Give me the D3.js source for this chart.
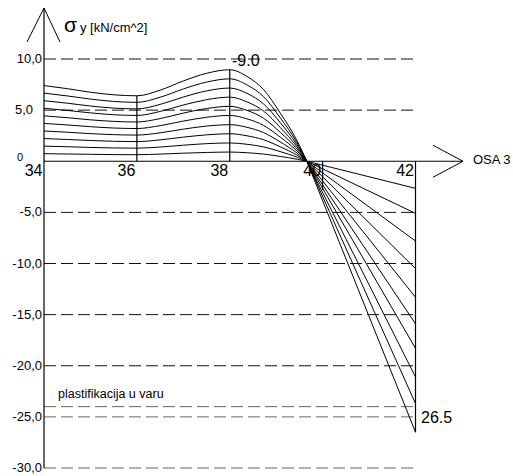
<!DOCTYPE html>
<html>
<head>
<meta charset="utf-8">
<script src="https://cdn.jsdelivr.net/npm/d3@7"></script>
<style>
  html, body { margin: 0; padding: 0; background: #fff; }
  svg { display: block; font-family: "Liberation Sans", Arial, sans-serif; }
</style>
</head>
<body>
<svg id="chart" width="513" height="476"></svg>
<script>
// ---- data ----
const xTicks = [34, 36, 38, 40, 42];
const yTicks = [10, 5, 0, -5, -10, -15, -20, -25, -30];
const yTickLabels = ["10,0", "5,0", "0", "-5,0", "-10,0", "-15,0", "-20,0", "-25,0", "-30,0"];
const gridValues = [10, 5, -5, -10, -15, -20, -24, -25, -30];
const plastLimit = -24;

// stations along OSA 3 (left, curved part)
const curveX = [34, 34.5, 35, 35.5, 36, 36.5, 37, 37.5, 38, 38.37, 38.73, 39.09, 39.45, 39.66];
// stress curves (load steps 1..10)
const s1  = [0.74, 0.71, 0.68, 0.65, 0.64, 0.70, 0.79, 0.86, 0.90, 0.83, 0.70, 0.47, 0.20, 0];
const s2  = [1.48, 1.42, 1.35, 1.30, 1.28, 1.39, 1.57, 1.72, 1.79, 1.66, 1.40, 0.94, 0.40, 0];
const s3  = [2.22, 2.13, 2.03, 1.95, 1.92, 2.09, 2.36, 2.58, 2.69, 2.49, 2.10, 1.41, 0.60, 0];
const s4  = [2.96, 2.84, 2.70, 2.60, 2.56, 2.78, 3.14, 3.44, 3.58, 3.32, 2.80, 1.88, 0.80, 0];
const s5  = [3.70, 3.55, 3.38, 3.25, 3.20, 3.48, 3.93, 4.30, 4.48, 4.15, 3.50, 2.35, 1.00, 0];
const s6  = [4.44, 4.26, 4.05, 3.90, 3.84, 4.17, 4.71, 5.16, 5.37, 4.98, 4.20, 2.82, 1.20, 0];
const s7  = [5.18, 4.97, 4.73, 4.55, 4.48, 4.87, 5.50, 6.02, 6.27, 5.81, 4.90, 3.29, 1.40, 0];
const s8  = [5.92, 5.68, 5.40, 5.20, 5.12, 5.56, 6.28, 6.88, 7.16, 6.64, 5.60, 3.76, 1.60, 0];
const s9  = [6.66, 6.39, 6.08, 5.85, 5.76, 6.26, 7.07, 7.74, 8.06, 7.47, 6.30, 4.23, 1.80, 0];
const s10 = [7.40, 7.10, 6.75, 6.50, 6.40, 6.95, 7.85, 8.60, 8.95, 8.30, 7.00, 4.70, 2.00, 0];
const leftCurves = [s1, s2, s3, s4, s5, s6, s7, s8, s9, s10];
// straight segments: from zero crossing to x = 42
const lineX = [39.66, 42];
const rightEnd = [-2.65, -5.1, -7.8, -10.5, -13.3, -15.9, -18.3, -21.1, -23.7, -26.5];
// vertical section lines
const sectionX = [36, 38, 40, 42];
const sectionTo = [6.4, 8.95, -2.8, -26.5];

// ---- scales ----
const x = d3.scaleLinear().domain([34, 42]).range([44, 415.5]);
const y = d3.scaleLinear().domain([-30, 10]).range([468, 59]);

const svg = d3.select("#chart");

// grid lines
svg.append("g").selectAll("line").data(gridValues).join("line")
  .attr("x1", x(34)).attr("x2", x(42))
  .attr("y1", d => y(d)).attr("y2", d => y(d))
  .attr("stroke", d => d <= plastLimit ? "#666" : "#111")
  .attr("stroke-width", 1)
  .attr("stroke-dasharray", "12,5");

// axes lines with arrows
const x0 = x(34), y0 = y(0);
svg.append("line").attr("x1", x0).attr("x2", x0).attr("y1", 8).attr("y2", y(-30))
  .attr("stroke", "#000").attr("stroke-width", 1.2);
svg.append("path").attr("d", `M${x0-17},42 L${x0},8 L${x0+16},42`)
  .attr("fill", "none").attr("stroke", "#000").attr("stroke-width", 1);
svg.append("line").attr("x1", x0).attr("x2", 463).attr("y1", y0).attr("y2", y0)
  .attr("stroke", "#000").attr("stroke-width", 1.2);
svg.append("path").attr("d", `M433,${y0-16} L463,${y0} L433,${y0+16}`)
  .attr("fill", "none").attr("stroke", "#000").attr("stroke-width", 1);

// section lines
svg.append("g").selectAll("line").data(sectionX).join("line")
  .attr("x1", d => x(d)).attr("x2", d => x(d))
  .attr("y1", y(0)).attr("y2", (d, i) => y(sectionTo[i]))
  .attr("stroke", "#000").attr("stroke-width", 1.2);

// curves
const curveLine = d3.line().x(d => x(d[0])).y(d => y(d[1])).curve(d3.curveMonotoneX);
const straight = d3.line().x(d => x(d[0])).y(d => y(d[1]));
const gc = svg.append("g").attr("fill", "none").attr("stroke", "#000").attr("stroke-width", 1);
leftCurves.forEach((vals, i) => {
  gc.append("path").attr("d", curveLine(curveX.map((cx, j) => [cx, vals[j]])));
  gc.append("path").attr("d", straight([[lineX[0], 0], [lineX[1], rightEnd[i]]]));
});

// y tick labels
svg.append("g").selectAll("text").data(yTicks).join("text")
  .attr("x", (d, i) => yTickLabels[i] === "5,0" ? 15 : (yTickLabels[i] === "0" ? 17 : 42))
  .attr("y", d => d === 0 ? y(0) : y(d) + 4)
  .attr("text-anchor", (d, i) => (yTickLabels[i] === "5,0" || yTickLabels[i] === "0") ? "start" : "end")
  .attr("font-size", d => d === 0 ? 11 : 13)
  .text((d, i) => yTickLabels[i]);

// x tick labels
svg.append("g").selectAll("text").data(xTicks).join("text")
  .attr("x", d => x(d) - 1.5).attr("y", 176)
  .attr("text-anchor", "end").attr("font-size", 16)
  .text(d => d);

// titles / annotations
const t = svg.append("text").attr("x", 64).attr("y", 32).attr("font-size", 13);
t.append("tspan").attr("font-size", 21).text("σ");
t.append("tspan").attr("dx", 3).text("y [kN/cm^2]");
svg.append("text").attr("x", 473).attr("y", 164).attr("font-size", 13).text("OSA 3");
svg.append("text").attr("x", 232).attr("y", 66).attr("font-size", 16).text("-9.0");
svg.append("text").attr("x", 421).attr("y", 423).attr("font-size", 16).text("26.5");
svg.append("text").attr("x", 58).attr("y", 398).attr("font-size", 12.5).text("plastifikacija u varu");
</script>
</body>
</html>
